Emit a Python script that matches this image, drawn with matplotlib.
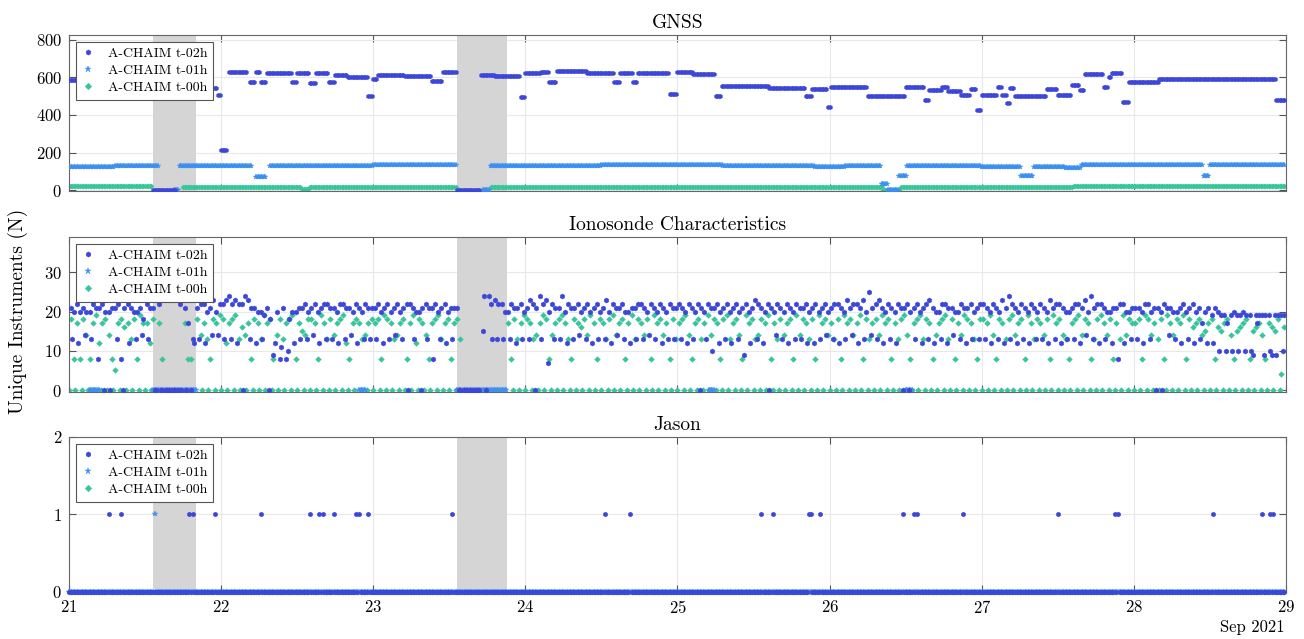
import matplotlib
matplotlib.use('Agg')
import numpy as np
import matplotlib.pyplot as plt

plt.rcParams['font.family'] = ['cmr10', 'DejaVu Serif']
plt.rcParams['mathtext.fontset'] = 'cm'
plt.rcParams['axes.formatter.use_mathtext'] = True

# colours / labels
c02, c01, c00 = '#3c46d8', '#3b8ff0', '#37c59c'
labels = ['A-CHAIM t-02h', 'A-CHAIM t-01h', 'A-CHAIM t-00h']

# 15 min samples, 21 Sep 00:00 -> 29 Sep 00:00 (day of month)
t = 21 + np.arange(8 * 96) / 96.0

# shaded outage windows
shade_start = [21.55, 23.55]
shade_end = [21.835, 23.88]

# ---- GNSS: (start, end, value) ----
gnss_t02_segments = [
    (21.00, 21.05, 587), (21.05, 21.55, 598), (21.55, 21.70, 0), (21.70, 21.93, 600),
    (21.93, 21.97, 545), (21.97, 22.00, 508), (22.00, 22.04, 215), (22.05, 22.17, 630),
    (22.18, 22.22, 578), (22.22, 22.26, 628), (22.26, 22.30, 575), (22.30, 22.46, 626),
    (22.46, 22.50, 578), (22.50, 22.58, 623), (22.58, 22.62, 572), (22.62, 22.70, 622),
    (22.70, 22.74, 576), (22.74, 22.83, 612), (22.83, 22.96, 602), (22.96, 23.00, 500),
    (23.00, 23.03, 592), (23.03, 23.20, 614), (23.20, 23.38, 610), (23.38, 23.45, 582),
    (23.45, 23.55, 627), (23.55, 23.70, 0), (23.70, 23.80, 613), (23.80, 23.96, 610),
    (23.96, 24.00, 498), (24.00, 24.10, 622), (24.10, 24.15, 630), (24.15, 24.20, 578),
    (24.20, 24.40, 632), (24.40, 24.58, 625), (24.58, 24.62, 578), (24.62, 24.70, 622),
    (24.70, 24.73, 574), (24.73, 24.94, 626), (24.94, 24.99, 510), (24.99, 25.10, 630),
    (25.10, 25.25, 618), (25.25, 25.29, 500), (25.29, 25.60, 553), (25.60, 25.84, 546),
    (25.84, 25.88, 500), (25.88, 25.98, 540), (25.98, 26.01, 440), (26.01, 26.24, 547),
    (26.24, 26.50, 503), (26.50, 26.62, 547), (26.62, 26.65, 480), (26.65, 26.73, 533),
    (26.73, 26.78, 551), (26.78, 26.86, 527), (26.86, 26.92, 505), (26.92, 26.96, 540),
    (26.96, 27.00, 428), (27.00, 27.10, 504), (27.10, 27.13, 548), (27.13, 27.16, 505),
    (27.16, 27.18, 462), (27.18, 27.21, 543), (27.21, 27.42, 503), (27.42, 27.50, 540),
    (27.50, 27.59, 505), (27.59, 27.64, 560), (27.64, 27.67, 533), (27.67, 27.80, 618),
    (27.80, 27.83, 551), (27.83, 27.85, 604), (27.85, 27.92, 622), (27.92, 27.96, 471),
    (27.96, 28.16, 578), (28.16, 28.93, 593), (28.93, 29.00, 478),
]
gnss_t01_segments = [
    (21.00, 21.30, 124), (21.30, 21.585, 130), (21.585, 21.68, np.nan), (21.68, 21.72, 0),
    (21.72, 22.20, 130), (22.20, 22.22, np.nan), (22.22, 22.30, 72), (22.30, 22.32, np.nan),
    (22.32, 23.00, 130), (23.00, 23.55, 132), (23.55, 23.71, np.nan), (23.71, 23.77, 0),
    (23.77, 24.50, 130), (24.50, 25.30, 132), (25.30, 25.90, 128), (25.90, 26.10, 124),
    (26.10, 26.34, 128), (26.34, 26.38, 33), (26.38, 26.45, 0), (26.45, 26.51, 75),
    (26.51, 27.00, 126), (27.00, 27.26, 122), (27.26, 27.34, 74), (27.34, 27.55, 124),
    (27.55, 27.65, 118), (27.65, 28.45, 132), (28.45, 28.50, 75), (28.50, 29.00, 131),
]
gnss_t00_segments = [
    (21.00, 21.55, 19), (21.55, 21.74, np.nan), (21.74, 22.53, 17), (22.53, 22.58, 3),
    (22.58, 23.55, 17), (23.55, 23.77, np.nan), (23.77, 25.00, 16), (25.00, 26.35, 15),
    (26.35, 26.46, 0), (26.46, 27.60, 15), (27.60, 29.00, 20),
]

# ---- Ionosonde: per hour values (base 36 chars, '.' = none) ----
iono_t02_days = [
    "ldk mck lek kdm l8l m0k k0l ldm 80l mcl kdk lei mdl l00 m00 000 000 0m0 l0h 0dc ldm mck len kem",
    "mdn odm ncm m0o ndl lck kdj l0i 9ck 8bl 8ai kck ldl mdk lem kcl mdm ldl kcm mdl lek mcl kdm ldl",
    "ldm kcl mdk lem kdl m0m ldk k0l mdl l8m kdl mck ldl l00 000 000 000 fo0 omd ndm mdk kdm lcl mdk",
    "ldn m0l odm n7k mdl ldo kcm ldl mek ldm kcl mdk ldn kcm lel mdk kcl ldm mdl kem ldk mcl kdm ldl",
    "mdl kcm ldk m0l kdm lal mck ldm kcl mdk l9m kcl ndm lck m0l kem ldk mcl kdm ldl mck lcm kdl mek",
    "ldm mcl kdn lem mcl ndk pel mdn lck mdl kcm l0l m0k ldm kcl mdn lck kdm mcl lek kdm lcl mdk ldm",
    "mdl kcm ldk ncl odm lck mdl kcm ldk mdl kcn ldm mcl kdk ldm mcl nek odl mcm ldk kcl l8m mck kdl",
    "ldl kcm mdk l0l k0m lel kdk lcm kdl mck ldh kcl jcl kaj jah jak jaj kaj ja9 jhj j9j ja9 j9j jaj",
]
iono_t00_days = [
    "i8 h8 ie 8h jc hi e8 5h ig hd i8 jh hc i. h8 .. .. .. h8 8. ie hd 8i hj",
    "ic hi jd ge h8 ih dj hi 8e id hi j8 hf ei ih 8j hd ie hi jc 8h ih de hi",
    "hi 8j ih de hi 8h jc ih e8 hi jd hi 8h id .. .. .. .. .. .. .. h8 id hj",
    "ih de hj i8 eh ij hd 8i hg ie jh 8i hd ij eh i8 hj di he i8 jh ie h8 id",
    "hi je 8h id hj ei h8 ij dh ie 8j hi de ih j8 hd ie hi 8j ei hd i8 jh ie",
    "hd i8 jh ie hj 8i dh ie jh i8 hd ij e8 hi jd ih 8e hi jd i8 he ji hd 8i",
    "ih je 8i hd ij eh i8 jh di he i8 jh ie d8 hi je ih 8d ij he i8 hd je ih",
    "hi 8j ie hd i8 jh ei hj 8i gh ie fh i8 gf hi e8 fg hi 8f gh e8 hg fi 4g",
]
iono_t01_zero_runs = [(21.13, 21.20), (21.55, 21.84), (22.90, 22.95),
                      (23.55, 23.88), (25.20, 25.25), (26.50, 26.55)]

# ---- Jason: zero everywhere except these times ----
jason_t02_ones = [21.26, 21.34, 21.79, 21.81, 21.96, 22.26, 22.58, 22.65, 22.67, 22.74,
                  22.89, 22.91, 22.97, 23.52, 24.52, 24.69, 25.55, 25.63, 25.86, 25.88,
                  25.94, 26.48, 26.55, 26.57, 26.88, 27.50, 27.88, 27.90, 28.52, 28.84,
                  28.90, 28.92]
jason_t01_ones = [21.56]


def steps(segments):
    y = np.full(t.shape, np.nan)
    for s, e, v in segments:
        y[(t >= s - 1e-9) & (t < e - 1e-9)] = v
    return y


def decode(days):
    chars = ''.join(''.join(d.split()) for d in days)
    return np.array([np.nan if c == '.' else int(c, 36) for c in chars], float)


gnss = [steps(gnss_t02_segments), steps(gnss_t01_segments), steps(gnss_t00_segments)]

in_shade = np.zeros(t.shape, bool)
for s, e in zip(shade_start, shade_end):
    in_shade |= (t >= s) & (t < e)

i02 = np.full((192, 4), np.nan)
i02[:, 1:] = decode(iono_t02_days).reshape(192, 3)
g = decode(iono_t00_days).reshape(192, 2)
i00 = np.full((192, 4), np.nan)
i00[:, 0] = 0
i00[:, 1] = g[:, 0]
i00[:, 3] = g[:, 1]
i00 = i00.ravel()
i00[in_shade & (np.arange(768) % 4 == 0)] = np.nan
i01 = np.full(t.shape, np.nan)
for s, e in iono_t01_zero_runs:
    i01[(t >= s) & (t < e)] = 0
iono = [i02.ravel(), i01, i00]

j02 = np.zeros(t.shape)
j02[np.rint((np.array(jason_t02_ones) - 21) * 96).astype(int)] = 1
j01 = np.zeros(t.shape)
j01[np.rint((np.array(jason_t01_ones) - 21) * 96).astype(int)] = 1
j00 = np.zeros(t.shape)
jason = [j02, j01, j00]

fig = plt.figure(figsize=(13.04, 6.39), dpi=100)
W = 0.9333
ax1 = fig.add_axes([0.0529, 0.7011, W, 0.2441])
ax2 = fig.add_axes([0.0529, 0.3865, W, 0.2426])
ax3 = fig.add_axes([0.0529, 0.0736, W, 0.2426])

markers = ['h', '*', 'D']
colors = [c02, c01, c00]


def draw(ax, series, sizes, title, ylim, yticks, clip=True):
    for s, e in zip(shade_start, shade_end):
        ax.axvspan(s, e, color='#d5d5d5', lw=0, zorder=0.8)
    handles = [None] * 3
    for k in [2, 1, 0]:
        handles[k], = ax.plot(t, series[k], ls='none', marker=markers[k], ms=sizes[k],
                              color=colors[k], mec=colors[k], mew=0.3,
                              zorder=2 + (2 - k), clip_on=clip, label=labels[k])
    ax.set_xlim(21, 29)
    ax.set_ylim(*ylim)
    ax.set_yticks(yticks)
    ax.set_xticks(range(21, 30))
    ax.grid(True, color='#e9e9e9', lw=0.8)
    ax.set_axisbelow(True)
    ax.tick_params(direction='in', top=True, right=True, length=5, width=0.8,
                   color='#555555', labelcolor='black', labelsize=12, pad=5)
    for sp in ax.spines.values():
        sp.set_color('#666666')
        sp.set_linewidth(0.8)
    ax.set_title(title, fontsize=14, pad=5)
    leg = ax.legend(handles=handles, loc='upper left', fontsize=10, fancybox=False,
                    framealpha=1, edgecolor='#555555', borderaxespad=0.5,
                    handlelength=1.0, handletextpad=0.9, labelspacing=0.3,
                    borderpad=0.4)
    for h, m in zip(leg.legend_handles, (3.8, 4.6, 3.4)):
        h.set_markersize(m)
    leg.get_frame().set_linewidth(0.8)
    leg.set_zorder(10)


draw(ax1, gnss, (3.2, 4.0, 2.6), 'GNSS', (-5, 826), [0, 200, 400, 600, 800])
draw(ax2, iono, (3.7, 4.2, 2.9), 'Ionosonde Characteristics', (-0.5, 39), [0, 10, 20, 30])
draw(ax3, jason, (3.5, 4.0, 2.6), 'Jason', (0, 2), [0, 1, 2], clip=False)
ax1.set_xticklabels([])
ax2.set_xticklabels([])

fig.text(0.014, 0.512, 'Unique Instruments (N)', rotation=90, va='center', ha='center',
         fontsize=14)
fig.text(0.985, 0.018, 'Sep 2021', ha='right', va='center', fontsize=12)

fig.savefig('out.png', dpi=100)
